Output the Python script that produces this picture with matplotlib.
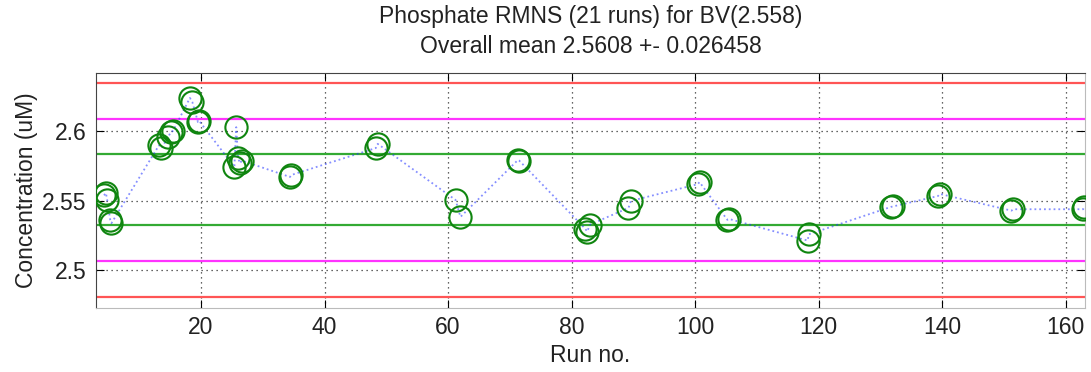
import matplotlib.pyplot as plt

# replicate measurements: run number and concentration
run_no = [4.3, 4.6, 4.8, 5.3, 5.5,
          13.2, 13.6, 14.7, 15.1, 15.5,
          18.2, 18.6, 19.5, 19.7,
          25.4, 25.7, 26.0, 26.3, 26.6,
          34.4, 34.6,
          48.3, 48.6,
          61.2, 62.0,
          71.3, 71.5,
          82.2, 82.5, 83.0,
          89.2, 89.6,
          100.4, 100.7,
          105.2, 105.5,
          118.2, 118.4,
          131.7, 132.0,
          139.3, 139.6,
          151.2, 151.5,
          162.8, 163.0]
conc = [2.5540, 2.5557, 2.5510, 2.5364, 2.5340,
        2.5900, 2.5880, 2.5960, 2.5995, 2.6005,
        2.6240, 2.6210, 2.6067, 2.6075,
        2.5744, 2.6030, 2.5810, 2.5770, 2.5790,
        2.5672, 2.5686,
        2.5880, 2.5910,
        2.5507, 2.5385,
        2.5794, 2.5790,
        2.5300, 2.5280, 2.5330,
        2.5450, 2.5500,
        2.5620, 2.5635,
        2.5364, 2.5370,
        2.5215, 2.5260,
        2.5457, 2.5460,
        2.5535, 2.5550,
        2.5430, 2.5440,
        2.5440, 2.5455]

bv = 2.558
limit_pct = [1, 2, 3]
limit_colors = ['#33aa33', '#ff33ff', '#ff5555']

plt.rcParams['font.family'] = ['Liberation Sans', 'DejaVu Sans']
fs = 16.5

fig = plt.figure(figsize=(10.91, 3.72), dpi=100)
ax = fig.add_axes([0.088, 0.172, 0.9065, 0.632])

for pct, col in zip(limit_pct, limit_colors):
    for sign in (1, -1):
        ax.axhline(bv * (1 + sign * pct / 100.0), color=col, lw=1.6, zorder=2)

ax.plot(run_no, conc, ':', color='#2233ff', lw=1.3, alpha=0.55, zorder=3)
ax.plot(run_no, conc, 'o', mfc='none', mec='#0f850f', ms=16, mew=1.5, zorder=4)

ax.set_xlim(3, 163.1)
ax.set_ylim(2.473, 2.642)
ax.set_xticks(range(20, 161, 20))
ax.set_yticks([2.5, 2.55, 2.6])
ax.set_yticklabels(['2.5', '2.55', '2.6'])
ax.grid(True, color='#333333', ls=(0, (1, 3)), lw=0.9)
ax.tick_params(direction='in', top=True, right=True, length=6, labelsize=fs,
               labelcolor='#222222')
ax.tick_params(axis='x', pad=6)
ax.tick_params(axis='y', pad=7)
for s in ax.spines.values():
    s.set_color('#444444')
ax.spines['bottom'].set_color('#bbbbbb')
ax.spines['right'].set_color('#bbbbbb')

ax.set_xlabel('Run no.', fontsize=fs, labelpad=3, color='#222222')
ax.set_ylabel('Concentration (uM)', fontsize=fs, labelpad=3, color='#222222')
ax.set_title('Phosphate RMNS (21 runs) for BV(2.558)\nOverall mean 2.5608 +- 0.026458',
             fontsize=fs, linespacing=1.42, pad=14, color='#222222')

fig.savefig('out.png', dpi=100)
